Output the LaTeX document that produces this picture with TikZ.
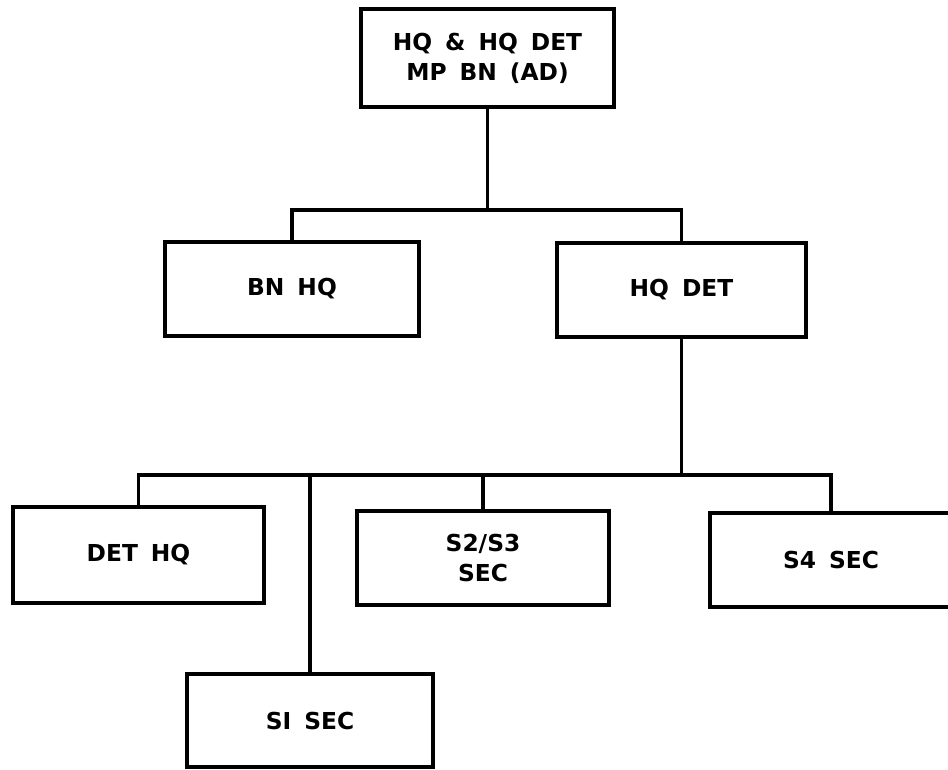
\documentclass[tikz,border=0pt]{standalone}
\usepackage{fontspec}
\setmainfont{DejaVu Sans}[WordSpace=1.6]
\begin{document}
\begin{tikzpicture}[x=0.75pt,y=-0.75pt,
  unit/.style={draw,line width=2.3pt,rectangle,inner sep=0pt,align=center,
    font=\fontsize{17.5}{22.5}\selectfont\bfseries},
  link/.style={line width=2.3pt}]
\clip (0,0) rectangle (948,769);
\useasboundingbox (0,0) rectangle (948,769);
\node[unit,minimum width=189.75pt,minimum height=73.5pt] (top) at (487.5,58) {HQ \& HQ DET\\MP BN (AD)};
\node[unit,minimum width=190.5pt,minimum height=70.5pt] (bnhq) at (292,289) {BN HQ};
\node[unit,minimum width=186.75pt,minimum height=70.5pt] (hqdet) at (681.5,290) {HQ DET};
\node[unit,minimum width=188.25pt,minimum height=72pt] (dethq) at (138.5,555) {DET HQ};
\node[unit,minimum width=189pt,minimum height=70.5pt] (s23) at (483,558) {S2/S3\\SEC};
\node[unit,minimum width=181.5pt,minimum height=70.5pt] (s4) at (831,560) {S4 SEC};
\node[unit,minimum width=184.5pt,minimum height=69.75pt] (s1) at (310,720.5) {SI SEC};
\coordinate (j1) at (487.5,210);
\coordinate (j2) at (681.5,475);
\draw[link] (top.south) -- (j1);
\draw[link] (bnhq.north) |- (j1) -| (hqdet.north);
\draw[link] (hqdet.south) -- (j2);
\draw[link] (dethq.north) |- (j2);
\draw[link] (s1.north) |- (j2);
\draw[link] (s23.north) |- (j2);
\draw[link] (s4.north) |- (j2);
\end{tikzpicture}
\end{document}
